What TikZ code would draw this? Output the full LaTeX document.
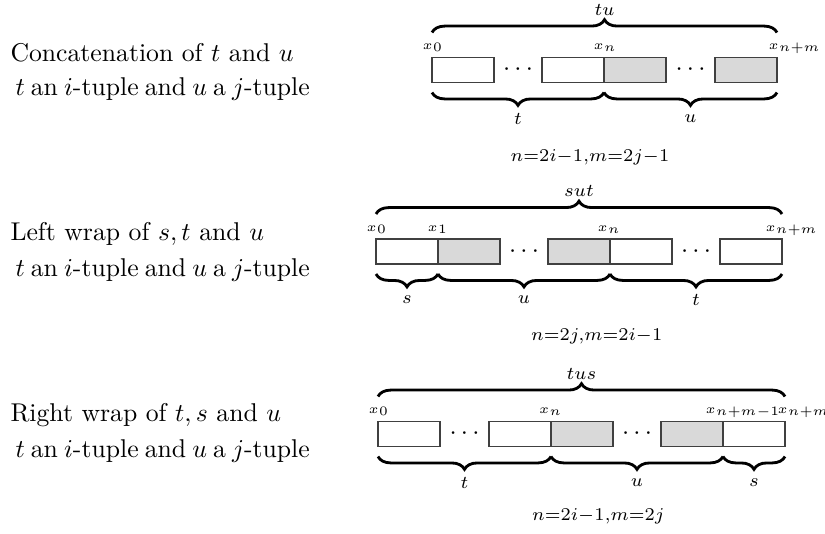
\documentclass[tikz,border=0pt]{standalone}
\usetikzlibrary{decorations.pathreplacing,calc}
\newcommand{\xsub}[1]{{\tiny$x$}\kern0.2pt\raisebox{-0.8pt}{\scriptsize$\scriptstyle #1$}}
\newcommand{\tupleline}{\hbox to 114.5pt{$t$ an $i$-tuple and $u$ a $j$-tuple}}
\begin{document}
\begin{tikzpicture}[x=0.3891pt,y=-0.3891pt,
  cell/.style={draw=black!75, line width=0.5pt, minimum width=24.12pt, minimum height=9.73pt, inner sep=0pt, outer sep=0pt},
  wcell/.style={cell, fill=white},
  gcell/.style={cell, fill=black!15},
  bracetop/.style={decorate, decoration={brace, amplitude=5pt}, line width=1.1pt},
  bracebot/.style={decorate, decoration={brace, amplitude=5pt, mirror}, line width=1.1pt},
  toplab/.style={midway, yshift=8.95pt, inner sep=0pt},
  botlab/.style={midway, yshift=-10.1pt, inner sep=0pt},
  xlab/.style={anchor=base west, inner sep=0pt},
  desc/.style={anchor=base west, inner sep=0pt},
  eqn/.style={inner sep=0pt},
  dotsn/.style={inner sep=0pt}
]
\useasboundingbox (0,0) rectangle (825,533);

% ---------- Row 1: concatenation ----------
\node[desc] (d1a) at (10,61.7) {Concatenation of $t$ and $u$};
\node[desc] (d1b) at (15,95) {\tupleline};

\node[wcell] (a1) at (463,70) {};
\node[dotsn] (ad1) at (518,70) {$\cdots$};
\node[wcell] (a2) at (573,70) {};
\node[gcell] (a3) at (635,70) {};
\node[dotsn] (ad2) at (690.5,70) {$\cdots$};
\node[gcell] (a4) at (746,70) {};

\node[xlab] (ax0) at (422,49) {\xsub{0}};
\node[xlab] (axn) at (593,49) {\xsub{n}};
\node[xlab] (axnm) at (768,49) {\xsub{n+m}};

\draw[bracetop] ([yshift=9.73pt]a1.north west) -- ([yshift=9.73pt]a4.north east)
  node[toplab] (atu) {$\scriptstyle tu$};
\draw[bracebot] ([yshift=-3.89pt]a1.south west) -- ([yshift=-3.89pt]a2.south east)
  node[botlab] (at) {$\scriptstyle t$};
\draw[bracebot] ([yshift=-3.89pt]a3.south west) -- ([yshift=-3.89pt]a4.south east)
  node[botlab] (au) {$\scriptstyle u$};

\node[eqn] (aeq) at (590,157) {$\scriptstyle n=2i-1,m=2j-1$};

% ---------- Row 2: left wrap ----------
\node[desc] (d2a) at (10,240) {Left wrap of $s,t$ and $u$};
\node[desc] (d2b) at (15,276.7) {\tupleline};

\node[wcell] (b1) at (407,251.5) {};
\node[gcell] (b2) at (469,251.5) {};
\node[dotsn] (bd1) at (524,251.5) {$\cdots$};
\node[gcell] (b3) at (579,251.5) {};
\node[wcell] (b4) at (641,251.5) {};
\node[dotsn] (bd2) at (696,251.5) {$\cdots$};
\node[wcell] (b5) at (751,251.5) {};

\node[xlab] (bx0) at (366,231) {\xsub{0}};
\node[xlab] (bx1) at (427,231) {\xsub{1}};
\node[xlab] (bxn) at (597,231) {\xsub{n}};
\node[xlab] (bxnm) at (765,231) {\xsub{n+m}};

\draw[bracetop] ([yshift=9.73pt]b1.north west) -- ([yshift=9.73pt]b5.north east)
  node[toplab] (bsut) {$\scriptstyle sut$};
\draw[bracebot] ([yshift=-3.89pt]b1.south west) -- ([yshift=-3.89pt]b1.south east)
  node[botlab] (bs) {$\scriptstyle s$};
\draw[bracebot] ([yshift=-3.89pt]b2.south west) -- ([yshift=-3.89pt]b3.south east)
  node[botlab] (bu) {$\scriptstyle u$};
\draw[bracebot] ([yshift=-3.89pt]b4.south west) -- ([yshift=-3.89pt]b5.south east)
  node[botlab] (bt) {$\scriptstyle t$};

\node[eqn] (beq) at (596.7,336.7) {$\scriptstyle n=2j,m=2i-1$};

% ---------- Row 3: right wrap ----------
\node[desc] (d3a) at (10,421.7) {Right wrap of $t,s$ and $u$};
\node[desc] (d3b) at (15,457.3) {\tupleline};

\node[wcell] (c1) at (409,434) {};
\node[dotsn] (cd1) at (464.5,434) {$\cdots$};
\node[wcell] (c2) at (520,434) {};
\node[gcell] (c3) at (582,434) {};
\node[dotsn] (cd2) at (637,434) {$\cdots$};
\node[gcell] (c4) at (692,434) {};
\node[wcell] (c5) at (754,434) {};

\node[xlab] (cx0) at (368,413) {\xsub{0}};
\node[xlab] (cxn) at (538.5,413) {\xsub{n}};
\node[xlab] (cxnm1) at (705,413) {\xsub{n+m-1}};
\node[xlab] (cxnm) at (777,413) {\xsub{n+m}};

\draw[bracetop] ([yshift=9.73pt]c1.north west) -- ([yshift=9.73pt]c5.north east)
  node[toplab] (ctus) {$\scriptstyle tus$};
\draw[bracebot] ([yshift=-3.89pt]c1.south west) -- ([yshift=-3.89pt]c2.south east)
  node[botlab] (ct) {$\scriptstyle t$};
\draw[bracebot] ([yshift=-3.89pt]c3.south west) -- ([yshift=-3.89pt]c4.south east)
  node[botlab] (cu) {$\scriptstyle u$};
\draw[bracebot] ([yshift=-3.89pt]c5.south west) -- ([yshift=-3.89pt]c5.south east)
  node[botlab] (cs) {$\scriptstyle s$};

\node[eqn] (ceq) at (598.3,516.7) {$\scriptstyle n=2i-1,m=2j$};
\end{tikzpicture}
\end{document}
